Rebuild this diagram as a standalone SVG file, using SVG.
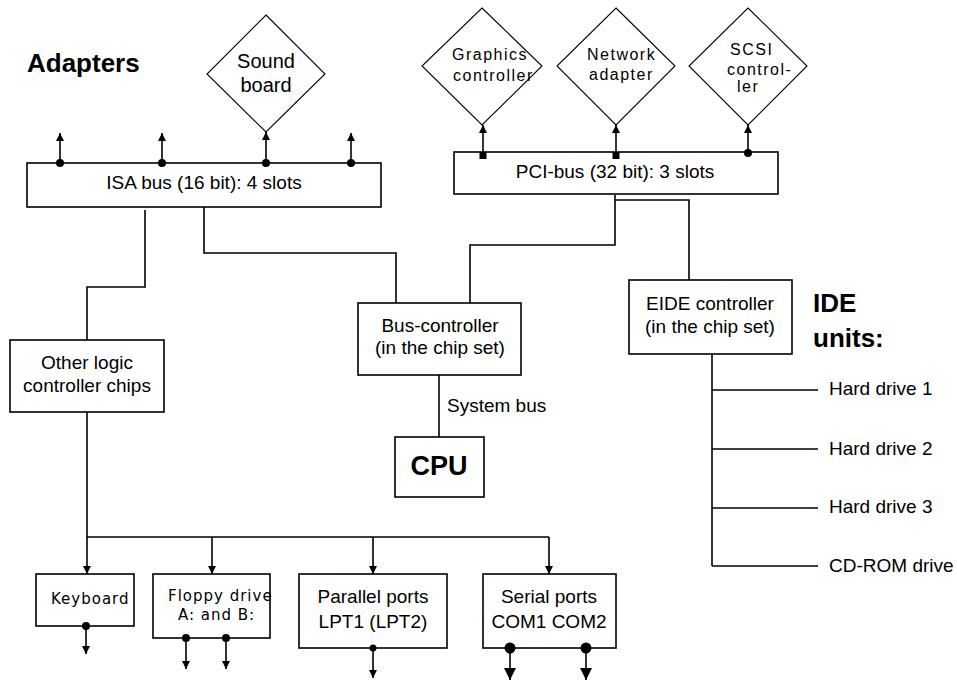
<svg xmlns="http://www.w3.org/2000/svg" width="957" height="682" viewBox="0 0 957 682">
<defs>
<style>
.bg{fill:#fff}
.box{fill:#fff;stroke:#000;stroke-width:1.6}
.dia{fill:#fff;stroke:#000;stroke-width:1.1}
.ln{fill:none;stroke:#000;stroke-width:1.6}
.t{font-family:"Liberation Sans",Arial,sans-serif;font-size:19px;fill:#000}
.c{text-anchor:middle}
.h{font-family:"Liberation Sans",Arial,sans-serif;font-size:26px;font-weight:bold;fill:#000}
.d{font-family:"Liberation Sans",Arial,sans-serif;font-size:16px;letter-spacing:1.5px;fill:#000}
.s{font-family:"DejaVu Sans",Verdana,sans-serif;font-size:15px;letter-spacing:1px;fill:#000}
.dot{fill:#000}
</style>
<marker id="ah" markerUnits="userSpaceOnUse" markerWidth="8" markerHeight="8" viewBox="0 0 8 8" refX="8" refY="4" orient="auto">
<path d="M0,0 L8,4 L0,8 z" fill="#000"/>
</marker>
<marker id="ahb" markerUnits="userSpaceOnUse" markerWidth="12" markerHeight="12" viewBox="0 0 12 12" refX="12" refY="6" orient="auto">
<path d="M0,0 L12,6 L0,12 z" fill="#000"/>
</marker>
</defs>
<rect class="bg" x="0" y="0" width="957" height="682"/>

<g id="connectors">
<path class="ln" d="M145,210 V287 H87 V340"/>
<path class="ln" d="M204,207 V253 H396 V303"/>
<path class="ln" d="M615,195 V245 H470 V303"/>
<path class="ln" d="M615,200 H689 V280"/>
<path class="ln" d="M439,375 V437"/>
<path class="ln" d="M87,412 V537 H549"/>
<path class="ln" d="M87,537 V574" marker-end="url(#ah)"/>
<path class="ln" d="M212,537 V574" marker-end="url(#ah)"/>
<path class="ln" d="M373,537 V574" marker-end="url(#ah)"/>
<path class="ln" d="M549,537 V574" marker-end="url(#ah)"/>
<path class="ln" d="M712,354 V566"/>
<path class="ln" d="M712,390 H818"/>
<path class="ln" d="M712,449 H818"/>
<path class="ln" d="M712,508 H818"/>
<path class="ln" d="M712,566 H818"/>
<!-- ISA slots -->
<path class="ln" d="M60,163 V133" marker-end="url(#ah)"/>
<path class="ln" d="M162,163 V133" marker-end="url(#ah)"/>
<path class="ln" d="M266,163 V132" marker-end="url(#ah)"/>
<path class="ln" d="M351,163 V133" marker-end="url(#ah)"/>
<!-- PCI slots -->
<path class="ln" d="M483,153 V125" marker-end="url(#ah)"/>
<path class="ln" d="M616,153 V125" marker-end="url(#ah)"/>
<path class="ln" d="M748,153 V125" marker-end="url(#ah)"/>
<!-- device outputs -->
<path class="ln" d="M86,626 V654" marker-end="url(#ah)"/>
<path class="ln" d="M186,638 V669" marker-end="url(#ah)"/>
<path class="ln" d="M226,638 V669" marker-end="url(#ah)"/>
<path class="ln" d="M373,648 V678" marker-end="url(#ah)"/>
<path class="ln" d="M510,648 V680" marker-end="url(#ahb)"/>
<path class="ln" d="M586,648 V680" marker-end="url(#ahb)"/>
</g>

<g id="title-adapters"><text class="h" x="27" y="72">Adapters</text></g>
<g id="title-ide"><text class="h" x="813" y="312">IDE</text><text class="h" x="813" y="347">units:</text></g>

<g id="isa-bus">
<rect class="box" x="27" y="163" width="354" height="44"/>
<text class="t c" x="204" y="189">ISA bus (16 bit): 4 slots</text>
<circle class="dot" cx="60" cy="163" r="4"/>
<circle class="dot" cx="162" cy="163" r="4"/>
<circle class="dot" cx="266" cy="163" r="4"/>
<circle class="dot" cx="351" cy="163" r="4"/>
</g>

<g id="sound-board">
<path class="dia" d="M266,15 L325,74 L266,132 L207,74 z"/>
<text class="t c" x="266" y="68" style="font-size:20px">Sound</text>
<text class="t c" x="266" y="92" style="font-size:20px">board</text>
</g>

<g id="pci-bus">
<rect class="box" x="454" y="152" width="324" height="42"/>
<text class="t c" x="615" y="178">PCI-bus (32 bit): 3 slots</text>
<rect class="dot" x="479.5" y="152" width="7" height="7"/>
<rect class="dot" x="612.5" y="152" width="7" height="7"/>
<circle class="dot" cx="748" cy="153" r="4"/>
</g>

<g id="graphics-controller">
<path class="dia" d="M482,8 L542,66 L482,125 L422,66 z"/>
<text class="d" x="452" y="60">Graphics</text>
<text class="d" x="453" y="81">controller</text>
</g>
<g id="network-adapter">
<path class="dia" d="M616,8 L675,66 L616,125 L557,66 z"/>
<text class="d" x="587" y="60">Network</text>
<text class="d" x="589" y="80">adapter</text>
</g>
<g id="scsi-controller">
<path class="dia" d="M748,8 L807,66 L748,125 L689,66 z"/>
<text class="d" x="730" y="55">SCSI</text>
<text class="d" x="727" y="75">control-</text>
<text class="d" x="737" y="92">ler</text>
</g>

<g id="other-logic">
<rect class="box" x="10" y="340" width="154" height="72"/>
<text class="t c" x="87" y="369">Other logic</text>
<text class="t c" x="87" y="392">controller chips</text>
</g>

<g id="bus-controller">
<rect class="box" x="358" y="303" width="163" height="72"/>
<text class="t c" x="440" y="332">Bus-controller</text>
<text class="t c" x="440" y="354">(in the chip set)</text>
</g>

<g id="system-bus-label"><text class="t" x="447" y="412">System bus</text></g>

<g id="cpu">
<rect class="box" x="395" y="437" width="89" height="60"/>
<text class="h c" x="439" y="475" style="font-size:27px">CPU</text>
</g>

<g id="eide-controller">
<rect class="box" x="629" y="280" width="163" height="74"/>
<text class="t c" x="710" y="310">EIDE controller</text>
<text class="t c" x="710" y="333">(in the chip set)</text>
</g>

<g id="ide-units">
<text class="t" x="829" y="395">Hard drive 1</text>
<text class="t" x="829" y="455">Hard drive 2</text>
<text class="t" x="829" y="513">Hard drive 3</text>
<text class="t" x="829" y="572">CD-ROM drive</text>
</g>

<g id="keyboard">
<rect class="box" x="36" y="574" width="98" height="52"/>
<text class="s" x="51" y="604">Keyboard</text>
<circle class="dot" cx="86" cy="626" r="4"/>
</g>

<g id="floppy-drive">
<rect class="box" x="153" y="574" width="117" height="64"/>
<text class="s" x="168" y="601">Floppy drive</text>
<text class="s" x="178" y="620">A: and B:</text>
<circle class="dot" cx="186" cy="638" r="4"/>
<circle class="dot" cx="226" cy="638" r="4"/>
</g>

<g id="parallel-ports">
<rect class="box" x="299" y="574" width="148" height="74"/>
<text class="t c" x="373" y="603">Parallel ports</text>
<text class="t c" x="373" y="628">LPT1 (LPT2)</text>
<circle class="dot" cx="373" cy="648" r="3.5"/>
</g>

<g id="serial-ports">
<rect class="box" x="483" y="574" width="133" height="74"/>
<text class="t c" x="549" y="603">Serial ports</text>
<text class="t c" x="549" y="628">COM1 COM2</text>
<circle class="dot" cx="510" cy="648" r="5.5"/>
<circle class="dot" cx="586" cy="648" r="5.5"/>
</g>
</svg>
